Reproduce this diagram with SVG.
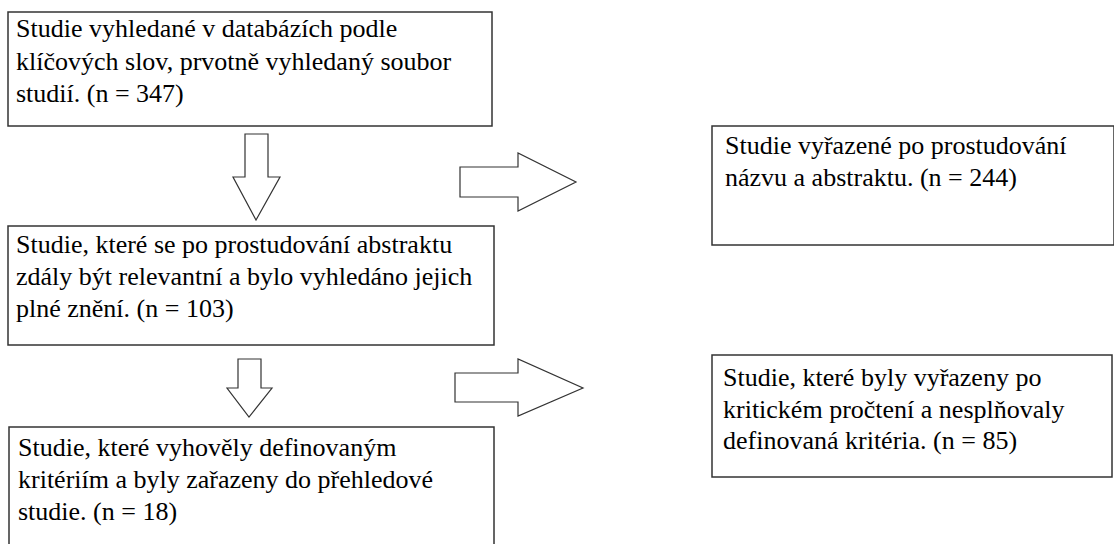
<svg xmlns="http://www.w3.org/2000/svg" width="1114" height="544" viewBox="0 0 1114 544">
<style>
.box{fill:#fff;stroke:#333;stroke-width:1.5}
.arr{fill:#fff;stroke:#333;stroke-width:1.2;stroke-linejoin:miter}
.t{font-family:'Liberation Serif','DejaVu Serif',serif;font-size:26px;fill:#000}
</style>
<rect width="1114" height="544" fill="#fff"/>
<g id="n1"><rect class="box" x="8" y="12" width="484" height="114"/>
<text class="t" x="16" y="37">Studie vyhledané v databázích podle</text>
<text class="t" x="16" y="70">klíčových slov, prvotně vyhledaný soubor</text>
<text class="t" x="16" y="102">studií. (n = 347)</text></g>
<g id="n2"><rect class="box" x="712" y="126" width="402" height="119"/>
<text class="t" x="725" y="154">Studie vyřazené po prostudování</text>
<text class="t" x="725" y="186">názvu a abstraktu. (n = 244)</text></g>
<g id="n3"><rect class="box" x="8" y="226" width="486" height="119"/>
<text class="t" x="16" y="253">Studie, které se po prostudování abstraktu</text>
<text class="t" x="16" y="285">zdály být relevantní a bylo vyhledáno jejich</text>
<text class="t" x="16" y="317">plné znění. (n = 103)</text></g>
<g id="n4"><rect class="box" x="712" y="355" width="400" height="122"/>
<text class="t" x="723" y="386">Studie, které byly vyřazeny po</text>
<text class="t" x="723" y="418">kritickém pročtení a nesplňovaly</text>
<text class="t" x="723" y="449">definovaná kritéria. (n = 85)</text></g>
<g id="n5"><rect class="box" x="9" y="427" width="485" height="130"/>
<text class="t" x="18" y="456">Studie, které vyhověly definovaným</text>
<text class="t" x="18" y="488">kritériím a byly zařazeny do přehledové</text>
<text class="t" x="18" y="520">studie. (n = 18)</text></g>
<g id="connectors">
<polygon class="arr" points="245,134 268,134 268,177 280,177 256,220 233,177 245,177"/>
<polygon class="arr" points="460,167 518,167 518,153 576,182 518,211 518,197 460,197"/>
<polygon class="arr" points="238,359 261,359 261,388 272,388 249,417 227,388 238,388"/>
<polygon class="arr" points="455,373 518,373 518,359 583,388 518,416 518,402 455,402"/>
</g>
</svg>
